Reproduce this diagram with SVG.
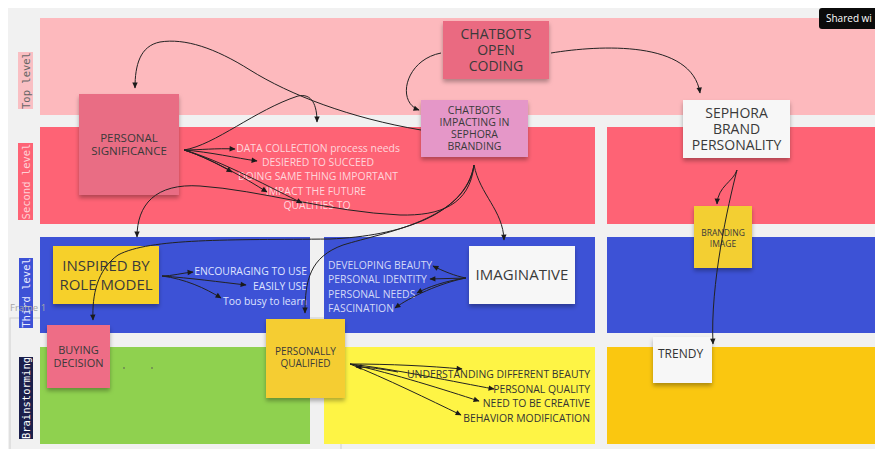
<svg xmlns="http://www.w3.org/2000/svg" width="875" height="449" viewBox="0 0 875 449">
<defs>
<style>
.band{stroke:none}
.lbl{font-family:"DejaVu Sans Mono",monospace;font-size:10.5px}
.st{font-family:"Open Sans","Liberation Sans",sans-serif;fill:#3a3a3a;text-anchor:middle}
.tx{font-family:"Open Sans","Liberation Sans",sans-serif;font-size:10.4px}
.cn path{fill:none;stroke:#222;stroke-width:1}
.ar{marker-end:url(#ah)}
</style>
<marker id="ah" viewBox="0 0 10 10" refX="9" refY="5" markerWidth="7" markerHeight="6" markerUnits="userSpaceOnUse" orient="auto"><path d="M0,0.5 L10,5 L0,9.5 z" fill="#1a1a1a"/></marker>
<filter id="sh" x="-10%" y="-10%" width="120%" height="130%"><feDropShadow dx="0" dy="3" stdDeviation="2" flood-color="#000" flood-opacity="0.3"/></filter>
</defs>
<rect x="0" y="0" width="875" height="449" fill="#ffffff"/>
<rect x="8" y="8" width="867" height="441" fill="#f1f1f1"/>
<rect x="10" y="318" width="331" height="140" fill="none" stroke="#cfcfcf" stroke-width="1"/>
<g id="bands">
<rect class="band" x="40" y="18" width="835" height="97" fill="#fdb9bd"/>
<rect class="band" x="40" y="127" width="555" height="97" fill="#fe6375"/>
<rect class="band" x="607" y="127" width="268" height="97" fill="#fe6375"/>
<rect class="band" x="40" y="237" width="270" height="96" fill="#3d52d6"/>
<rect class="band" x="324" y="237" width="271" height="96" fill="#3d52d6"/>
<rect class="band" x="607" y="237" width="268" height="96" fill="#3d52d6"/>
<rect class="band" x="40" y="347" width="270" height="97" fill="#8fd14f"/>
<rect class="band" x="324" y="347" width="271" height="97" fill="#fef445"/>
<rect class="band" x="607" y="347" width="268" height="97" fill="#fac710"/>
</g>
<g id="row-labels">
<rect x="18" y="52" width="15" height="57" fill="#f9bfc3"/>
<text class="lbl" transform="translate(29.5,80.5) rotate(-90)" text-anchor="middle" fill="#666">Top level</text>
<rect x="18" y="143" width="15" height="77" fill="#fe6375"/>
<text class="lbl" transform="translate(29.5,181.5) rotate(-90)" text-anchor="middle" fill="#ffd0d6">Second level</text>
<rect x="19" y="258" width="14" height="70" fill="#3d52d6"/>
<text class="lbl" transform="translate(29.5,293) rotate(-90)" text-anchor="middle" fill="#e8ebff">Third level</text>
<rect x="19" y="357" width="14" height="82" fill="#1b1f4b"/>
<text class="lbl" transform="translate(29.5,398) rotate(-90)" text-anchor="middle" fill="#ffffff">Brainstorming</text>
<text x="10" y="311" font-family="Open Sans, Liberation Sans, sans-serif" font-size="9.5" fill="#a8a8a8">Frame 1</text>
</g>
<g id="shared">
<rect x="819" y="8" width="62" height="21" rx="3" fill="#0b0b0b"/>
<text x="826" y="22" font-family="Open Sans, Liberation Sans, sans-serif" font-size="10" fill="#ffffff">Shared wi</text>
</g>
<g id="chatbots-open-coding">
<rect x="443" y="21" width="106" height="58" fill="#ea6b81" filter="url(#sh)"/>
<text class="st" font-size="14" x="496" y="39">CHATBOTS</text>
<text class="st" font-size="14" x="496" y="55">OPEN</text>
<text class="st" font-size="14" x="496" y="71">CODING</text>
</g>
<g id="chatbots-impacting">
<rect x="421" y="100" width="107" height="57" fill="#e597c8" filter="url(#sh)"/>
<text class="st" font-size="10.5" x="474.5" y="114">CHATBOTS</text>
<text class="st" font-size="10.5" x="474.5" y="126">IMPACTING IN</text>
<text class="st" font-size="10.5" x="474.5" y="138">SEPHORA</text>
<text class="st" font-size="10.5" x="474.5" y="150">BRANDING</text>
</g>
<g id="sephora-brand-personality">
<rect x="683" y="100" width="107" height="58" fill="#f7f7f7" filter="url(#sh)"/>
<text class="st" font-size="14" x="736.5" y="118">SEPHORA</text>
<text class="st" font-size="14" x="736.5" y="134">BRAND</text>
<text class="st" font-size="14" x="736.5" y="150">PERSONALITY</text>
</g>
<g id="personal-significance">
<rect x="79" y="94" width="100" height="101" fill="#e96d84" filter="url(#sh)"/>
<text class="st" font-size="11.5" x="129" y="142">PERSONAL</text>
<text class="st" font-size="11.5" x="129" y="155">SIGNIFICANCE</text>
</g>
<g id="inspired-by-role-model">
<rect x="53" y="246" width="106" height="58" fill="#f6d02b" filter="url(#sh)"/>
<text class="st" font-size="15" x="106" y="271" fill="#2d2d2d">INSPIRED BY</text>
<text class="st" font-size="15" x="106" y="290" fill="#2d2d2d">ROLE MODEL</text>
</g>
<g id="buying-decision">
<rect x="47" y="325" width="63" height="63" fill="#ee6d86" filter="url(#sh)"/>
<text class="st" font-size="11" x="78.5" y="354">BUYING</text>
<text class="st" font-size="11" x="78.5" y="367">DECISION</text>
</g>
<g id="personally-qualified">
<rect x="266" y="319" width="79" height="79" fill="#f5cd33" filter="url(#sh)"/>
<text class="st" font-size="10" x="305.5" y="355">PERSONALLY</text>
<text class="st" font-size="10" x="305.5" y="367">QUALIFIED</text>
</g>
<g id="imaginative">
<rect x="469" y="246" width="106" height="58" fill="#f7f7f7" filter="url(#sh)"/>
<text class="st" font-size="15" x="522" y="280" fill="#2d2d2d">IMAGINATIVE</text>
</g>
<g id="branding-image">
<rect x="694" y="206" width="58" height="62" fill="#f3cf30" filter="url(#sh)"/>
<text class="st" font-size="8.5" x="723" y="236">BRANDING</text>
<text class="st" font-size="8.5" x="723" y="247">IMAGE</text>
</g>
<g id="trendy">
<rect x="653" y="337" width="59" height="46" fill="#f7f7f7" filter="url(#sh)"/>
<text x="658" y="358" font-family="Open Sans, Liberation Sans, sans-serif" font-size="12" fill="#333">TRENDY</text>
</g>
<g id="texts-second" class="tx" fill="#ffd6dc" text-anchor="middle">
<text x="318" y="152">DATA COLLECTION process needs</text>
<text x="318" y="166">DESIERED TO SUCCEED</text>
<text x="318" y="180">DOING SAME THING  IMPORTANT</text>
<text x="316" y="195">IMPACT THE FUTURE</text>
<text x="317" y="209">QUALITIES TO</text>
</g>
<g id="texts-inspired" class="tx" fill="#dfe3ff" text-anchor="end">
<text x="307" y="275">ENCOURAGING TO USE</text>
<text x="307" y="290">EASILY USE</text>
<text x="307" y="305">Too busy to learn</text>
</g>
<g id="texts-imaginative" class="tx" fill="#d3d8f7">
<text x="328" y="269">DEVELOPING BEAUTY</text>
<text x="328" y="283">PERSONAL IDENTITY</text>
<text x="328" y="298">PERSONAL NEEDS</text>
<text x="328" y="312">FASCINATION</text>
</g>
<g id="texts-qualified" class="tx" fill="#333" text-anchor="end">
<text x="590" y="378">UNDERSTANDING DIFFERENT BEAUTY</text>
<text x="590" y="393">PERSONAL QUALITY</text>
<text x="590" y="407">NEED TO BE CREATIVE</text>
<text x="590" y="422">BEHAVIOR MODIFICATION</text>
</g>
<g id="dots" fill="#555">
<circle cx="124" cy="368" r="0.8"/>
<circle cx="152" cy="368" r="0.8"/>
</g>
<g id="connectors" class="cn">
<path class="ar" d="M421,130 C350,118 290,95 250,70 C215,48 185,38 160,42 C140,46 135,65 135,88"/>
<path class="ar" d="M184,150 C215,145 255,110 298,96 C312,93 317,105 317,122"/>
<path class="ar" d="M441,53 C405,60 396,102 419,110"/>
<path class="ar" d="M551,53 C600,45 692,40 700,93"/>
<path class="ar" d="M737,170 C733,182 718,186 717,204"/>
<path class="ar" d="M737,170 C728,205 710,285 713,344"/>
<path class="ar" d="M184,150 C200,150 216,148 235,149"/>
<path class="ar" d="M184,150 C210,152 236,158 257,161"/>
<path class="ar" d="M184,150 C200,155 218,164 232,172"/>
<path class="ar" d="M184,150 C210,158 245,178 267,192"/>
<path class="ar" d="M184,150 C220,160 275,190 302,203"/>
<path class="ar" d="M474,165 C470,205 440,216 400,215 C330,212 260,190 200,186 C155,183 137,205 137,237"/>
<path class="ar" d="M474,165 C465,215 400,236 330,239 C230,240 150,238 118,255 C97,270 92,295 93,320"/>
<path class="ar" d="M474,165 C466,220 385,232 343,245 C310,257 305,280 305,313"/>
<path class="ar" d="M474,165 C480,195 503,210 504,240"/>
<path class="ar" d="M162,276 C172,276 182,273 193,272"/>
<path class="ar" d="M162,276 C190,278 220,282 246,285"/>
<path class="ar" d="M162,276 C185,279 205,288 221,298"/>
<path class="ar" d="M466,278 C455,276 443,271 433,266"/>
<path class="ar" d="M466,278 L430,279"/>
<path class="ar" d="M466,278 C445,281 428,287 417,293"/>
<path class="ar" d="M466,278 C440,283 410,297 395,308"/>
<path class="ar" d="M350,364 C390,364 430,366 462,369"/>
<path class="ar" d="M350,364 C400,370 455,382 494,389"/>
<path class="ar" d="M350,364 C395,374 445,390 479,401"/>
<path class="ar" d="M350,364 C385,378 430,400 461,415"/>
<path class="ar" d="M398,372 C382,369 368,367 356,367"/>
</g>
</svg>
